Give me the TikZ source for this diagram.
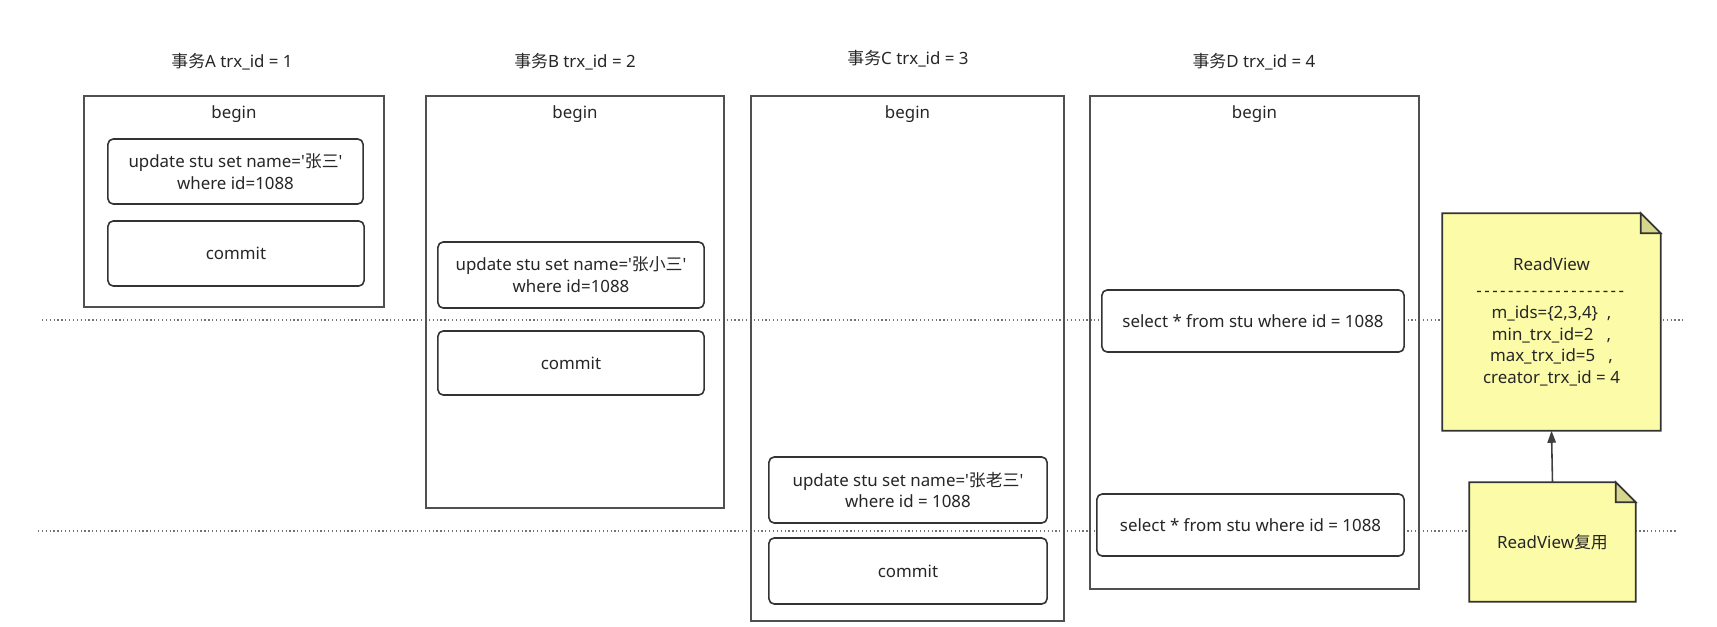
\documentclass[tikz,border=0pt]{standalone}
\usepackage{fontspec}
\setmainfont{Noto Sans}
\newfontfamily\cjk{Noto Sans CJK SC}
\usetikzlibrary{arrows.meta, positioning, calc, backgrounds}
\definecolor{notefill}{RGB}{252,252,168}
\definecolor{notefold}{RGB}{214,214,140}
\definecolor{framegray}{RGB}{80,80,80}
\newcommand{\sq}{\textquotesingle}

\begin{document}
\begin{tikzpicture}[
				x=0.01cm, y=-0.01cm,
				font=\fontsize{4.8pt}{6.2pt}\selectfont,
				text=black!85,
				>={Triangle[length=1.2mm, width=0.85mm]},
				title/.style={inner sep=0pt},
				frame/.style={draw=framegray, line width=0.45pt, inner sep=0pt},
				stmt/.style={draw=black!80, line width=0.45pt, rounded corners=1.5pt,
					fill=white, align=center, inner sep=2pt},
				note/.style={align=center, inner sep=0pt},
				notebody/.style={draw=black!80, line width=0.45pt, fill=notefill},
				notecorner/.style={draw=black!80, line width=0.45pt, fill=notefold},
				sep/.style={draw=black!55, line width=0.35pt, dash pattern=on 0.35pt off 0.75pt}
				]
				\useasboundingbox (0,0) rectangle (1717,627);
				
				%--- time lines ------------------------------------------------------------
				\coordinate (sepL1) at (42,320);
				\coordinate (sepR1) at (1683,320);
				\coordinate (sepL2) at (38,531);
				\coordinate (sepR2) at (1678,531);
				
				%--- transaction A ---------------------------------------------------------
				\node[title] (titleA) at (232,62) {{\cjk 事务}A trx\_id = 1};
				\node[frame, minimum width=3.00cm, minimum height=2.11cm] (frameA) at (234,201.5) {};
				\node (beginA) at ($(frameA.north)+(0,19)$) {begin};
				\node[stmt, minimum width=2.55cm, minimum height=0.65cm] (updA) at (235.5,171.5)
				{update stu set name=\sq{\cjk 张三}\sq\\where id=1088};
				\node[stmt, minimum width=2.56cm, minimum height=0.65cm] (comA) at (236,253.5) {commit};
				
				%--- transaction B ---------------------------------------------------------
				\node[title] (titleB) at (575,62) {{\cjk 事务}B trx\_id = 2};
				\node[frame, minimum width=2.98cm, minimum height=4.12cm] (frameB) at (575,302) {};
				\node (beginB) at ($(frameB.north)+(0,19)$) {begin};
				\node[stmt, minimum width=2.66cm, minimum height=0.66cm] (updB) at (571,275)
				{update stu set name=\sq{\cjk 张小三}\sq\\where id=1088};
				\node[stmt, minimum width=2.66cm, minimum height=0.64cm] (comB) at (571,363) {commit};
				
				%--- transaction C ---------------------------------------------------------
				\node[title] (titleC) at (908,59) {{\cjk 事务}C trx\_id = 3};
				\node[frame, minimum width=3.13cm, minimum height=5.25cm] (frameC) at (907.5,358.5) {};
				\node (beginC) at ($(frameC.north)+(0,19)$) {begin};
				\node[stmt, minimum width=2.78cm, minimum height=0.66cm] (updC) at (908,490)
				{update stu set name=\sq{\cjk 张老三}\sq\\where id = 1088};
				\node[stmt, minimum width=2.78cm, minimum height=0.66cm] (comC) at (908,571) {commit};
				
				%--- transaction D ---------------------------------------------------------
				\node[title] (titleD) at (1254,62) {{\cjk 事务}D trx\_id = 4};
				\node[frame, minimum width=3.29cm, minimum height=4.93cm] (frameD) at (1254.5,342.5) {};
				\node (beginD) at ($(frameD.north)+(0,19)$) {begin};
				\node[stmt, minimum width=3.02cm, minimum height=0.62cm] (selD1) at (1253,321)
				{select * from stu where id = 1088};
				\node[stmt, minimum width=3.07cm, minimum height=0.62cm] (selD2) at (1250.5,525)
				{select * from stu where id = 1088};
				
				%--- read views ------------------------------------------------------------
				\node[note, minimum width=2.17cm, minimum height=2.16cm] (rv) at (1551.5,322)
				{ReadView\\[1.2pt]
					\foreach \i in {1,...,19}{-\kern0.7pt}\\[0pt]
					m\_ids=\{2,3,4\}\ \ ,\\
					min\_trx\_id=2\ \ \ ,\\
					max\_trx\_id=5\ \ \ ,\\
					creator\_trx\_id = 4};
				\node[note, minimum width=1.65cm, minimum height=1.18cm] (rvreuse) at (1552.5,542)
				{ReadView{\cjk 复用}};
				
				\draw[->, draw=black!75, line width=0.45pt] (rvreuse.north) -- (rv.south);
				
				\begin{pgfonlayer}{background}
					\draw[sep] (sepL1) -- (sepR1);
					\draw[sep] (sepL2) -- (sepR2);
					\path[notebody] (rv.south west) -- (rv.north west)
					-- ($(rv.north east)+(-20,0)$) -- ($(rv.north east)+(0,20)$)
					-- (rv.south east) -- cycle;
					\path[notecorner] ($(rv.north east)+(-20,0)$) -- ($(rv.north east)+(-20,20)$)
					-- ($(rv.north east)+(0,20)$) -- cycle;
					\path[notebody] (rvreuse.south west) -- (rvreuse.north west)
					-- ($(rvreuse.north east)+(-20,0)$) -- ($(rvreuse.north east)+(0,20)$)
					-- (rvreuse.south east) -- cycle;
					\path[notecorner] ($(rvreuse.north east)+(-20,0)$) -- ($(rvreuse.north east)+(-20,20)$)
					-- ($(rvreuse.north east)+(0,20)$) -- cycle;
				\end{pgfonlayer}
			\end{tikzpicture}
\end{document}
